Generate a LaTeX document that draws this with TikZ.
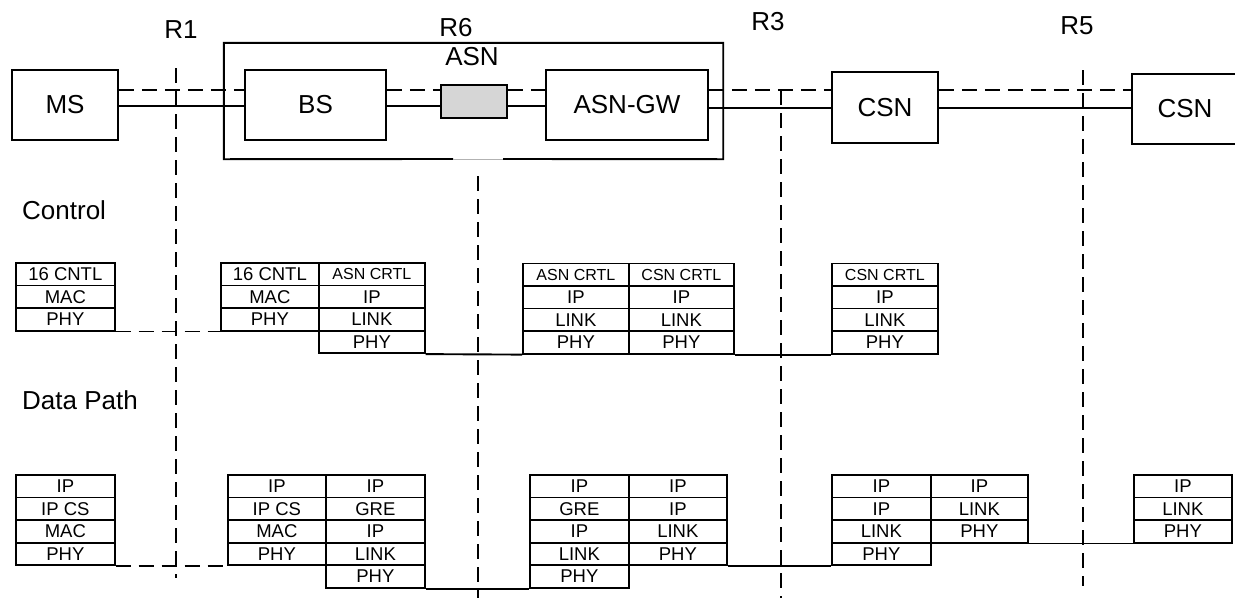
\documentclass[tikz,border=0pt]{standalone}
\usepackage{fontspec}
\setmainfont{Liberation Sans}
\usetikzlibrary{calc}
\definecolor{boxgray}{RGB}{214,214,214}
\newcommand\crtl[1]{{\fontsize{16}{18}\selectfont #1}}
\newcommand\mystack[5]{%
  \foreach \t [count=\i] in {#5} {
    \node[cell, minimum width=#4pt] (#1-\i) at (#2, {#3+22.6*(\i-1)}) {\t};
  }%
}
\begin{document}
\begin{tikzpicture}[x=1pt,y=-1pt,
  box/.style={draw, line width=1.9pt, inner sep=0pt, font=\fontsize{26}{30}\selectfont},
  cell/.style={draw, line width=1.7pt, inner sep=0pt, minimum height=22.6pt, anchor=north west, font=\fontsize{18.5}{20}\selectfont},
  lbl/.style={inner sep=0pt, font=\fontsize{26}{30}\selectfont},
  sline/.style={line width=1.9pt},
  dline/.style={line width=1.9pt, dash pattern=on 15pt off 8pt},
  rline/.style={line width=1.9pt, dash pattern=on 15pt off 8pt}]
\useasboundingbox (0,0) rectangle (1235,598);

% reference-point labels
\node[lbl] (r1) at (181,30) {R1};
\node[lbl] (r6) at (456,28) {R6};
\node[lbl] (r3) at (768,22) {R3};
\node[lbl] (r5) at (1077,26) {R5};

% R lines
\coordinate (r1t) at (176,68);  \coordinate (r1b) at (176,578);
\coordinate (r6t) at (478,176); \coordinate (r6b) at (478,598);
\coordinate (r3t) at (781,90);  \coordinate (r3b) at (781,598);
\coordinate (r5t) at (1083,70); \coordinate (r5b) at (1083,586);
\draw[rline] (r1t) -- (r1b);
\draw[rline] (r6t) -- (r6b);
\draw[rline] (r3t) -- (r3b);
\draw[rline] (r5t) -- (r5b);

% ASN outer box
\node[minimum width=499pt, minimum height=116pt, inner sep=0pt] (asn) at (473.5,101) {};
\coordinate (gapL) at (453,159);
\coordinate (gapR) at (503,159);
\draw[sline] (gapL) -- (asn.south west) -- (asn.north west) -- (asn.north east) -- (asn.south east) -- (gapR);
\draw[gray!60, line width=0.8pt] (gapL) -- (gapR);
\node[lbl] (asnl) at (472,57) {ASN};

% top boxes
\node[box, minimum width=106pt, minimum height=70pt] (ms) at (65,105) {MS};
\node[box, minimum width=141pt, minimum height=70pt] (bs) at (315.5,105) {BS};
\node[draw, line width=1.6pt, fill=boxgray, minimum width=66pt, minimum height=33pt, inner sep=0pt] (gr) at (474,101.5) {};
\node[box, minimum width=162pt, minimum height=70pt] (gw) at (627,105) {ASN-GW};
\node[box, minimum width=106pt, minimum height=71pt] (csn) at (885,107.5) {CSN};
\node[box, minimum width=106pt, minimum height=70pt] (csnb) at (1185,109) {CSN};

\coordinate (dy) at (0,90);
\coordinate (sy) at (0,106);
\coordinate (sy2) at (0,108);
\draw[dline] (ms.east |- dy) -- (bs.west |- dy);
\draw[sline] (ms.east |- sy) -- (bs.west |- sy);
\draw[dline] (bs.east |- dy) -- (gr.west |- dy);
\draw[sline] (bs.east |- sy) -- (gr.west |- sy);
\draw[dline] (gr.east |- dy) -- (gw.west |- dy);
\draw[sline] (gr.east |- sy) -- (gw.west |- sy);
\draw[dline] (gw.east |- dy) -- (csn.west |- dy);
\draw[sline] (gw.east |- sy2) -- (csn.west |- sy2);
\draw[dline] (csn.east |- dy) -- (csnb.west |- dy);
\draw[sline] (csn.east |- sy2) -- (csnb.west |- sy2);

% section labels
\node[lbl, anchor=west] (ctl) at (22,210) {Control};
\node[lbl, anchor=west] (dp) at (22,400) {Data Path};

% control stacks
\mystack{msC}{15}{262}{99}{16 CNTL,MAC,PHY}
\mystack{bsCa}{220}{262}{98}{16 CNTL,MAC,PHY}
\mystack{bsCb}{318}{262}{106}{\crtl{ASN CRTL},IP,LINK,PHY}
\mystack{asnCa}{522}{262.5}{106}{\crtl{ASN CRTL},IP,LINK,PHY}
\mystack{asnCb}{628}{262.5}{105}{\crtl{CSN CRTL},IP,LINK,PHY}
\mystack{csnC}{831}{262.5}{106}{\crtl{CSN CRTL},IP,LINK,PHY}

\draw[dline] (msC-3.south east) -- (bsCa-3.south west);
\draw[sline] (bsCb-4.south east) -- (asnCa-4.south west);
\draw[sline] (asnCb-4.south east) -- (csnC-4.south west);

% data path stacks
\mystack{msD}{15}{474}{99}{IP,IP CS,MAC,PHY}
\mystack{bsDa}{227}{474}{98}{IP,IP CS,MAC,PHY}
\mystack{bsDb}{325}{474}{99}{IP,GRE,IP,LINK,PHY}
\mystack{asnDa}{529}{474}{99}{IP,GRE,IP,LINK,PHY}
\mystack{asnDb}{628}{474}{98}{IP,IP,LINK,PHY}
\mystack{csnDa}{831}{474}{99}{IP,IP,LINK,PHY}
\mystack{csnDb}{930}{474}{97}{IP,LINK,PHY}
\mystack{csnbD}{1133}{474}{98}{IP,LINK,PHY}

\draw[dline] (msD-4.south east) -- (bsDa-4.south west);
\draw[sline] (bsDb-5.south east) -- (asnDa-5.south west);
\draw[sline] (asnDb-4.south east) -- (csnDa-4.south west);
\draw[sline] (csnDb-3.south east) -- (csnbD-3.south west);
\end{tikzpicture}
\end{document}
